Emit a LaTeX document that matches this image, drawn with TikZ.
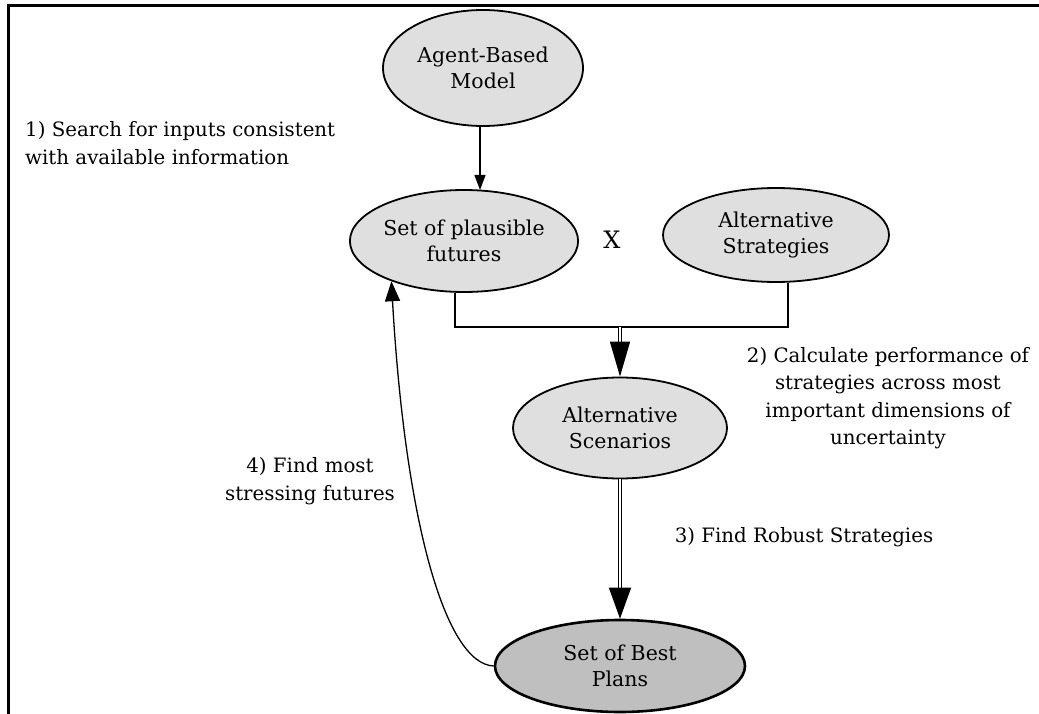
\documentclass[tikz,border=0pt]{standalone}
\usepackage{fontspec}
\setmainfont{DejaVu Serif}
\usetikzlibrary{arrows.meta,shapes.geometric}
\begin{document}
\begin{tikzpicture}[x=1pt,y=-1pt,
  oval/.style={ellipse, draw=black, line width=1.8pt, fill=gray!25, inner sep=0pt, align=center, font=\fontsize{20.5}{26}\selectfont},
  lbl/.style={font=\fontsize{19.8}{27.5}\selectfont, inner sep=0pt},
  conn/.style={line width=1.3pt},
  dbl/.style={double, double distance=2.2pt, line width=0.9pt}
]
\useasboundingbox (0,0) rectangle (1039,714);
% frame
\coordinate (fb) at (8,714);
\coordinate (ft) at (8,6);
\coordinate (fr) at (1039,6);
\draw[line width=3pt] (fb) -- (ft) -- (fr);

\node[oval, minimum width=200pt, minimum height=116pt] (abm) at (483,68) {Agent-Based\\Model};
\node[oval, minimum width=228pt, minimum height=102pt] (spf) at (464,241) {Set of plausible\\futures};
\node[oval, minimum width=226pt, minimum height=94pt] (as) at (776,235) {Alternative\\Strategies};
\node[oval, minimum width=214pt, minimum height=101pt] (asc) at (620,428) {Alternative\\Scenarios};
\node[oval, line width=2.6pt, fill=gray!50, minimum width=250pt, minimum height=92pt] (sbp) at (620,666) {Set of Best\\Plans};

\node[font=\fontsize{24}{24}\selectfont, inner sep=0pt] (x) at (612,240) {X};

\node[lbl, anchor=west, align=left] (t1) at (25,143) {1) Search for inputs consistent\\with available information};
\node[lbl, align=center] (t2) at (888,398) {2) Calculate performance of\\strategies across most\\important dimensions of\\uncertainty};
\node[lbl] (t3) at (804,537) {3) Find Robust Strategies};
\node[lbl, align=center] (t4) at (310,481) {4) Find most\\stressing futures};

% arrow ABM -> plausible futures
\draw[conn, -{Triangle[length=15pt,width=11pt]}] (abm.south -| 480,0) -- (480,190);

% join bracket
\coordinate (join) at (620,327);
\draw[conn] (spf.south -| 455,0) |- (join) -| (as.south -| 788,0);

% double arrows
\coordinate (h1) at (620,342);
\draw[dbl] (join) -- (h1);
\draw[conn, -{Triangle[length=35pt,width=20pt]}] (h1) -- (asc.north);
\coordinate (h2) at (620,590);
\draw[dbl] (asc.south) -- (h2);
\draw[conn, -{Triangle[length=31pt,width=22pt]}] (h2) -- (sbp.north);

% feedback curve
\draw[conn, -{Triangle[length=20pt,width=15pt]}] (sbp.west) .. controls (445,664) and (405,520) .. (spf.209);
\end{tikzpicture}
\end{document}
